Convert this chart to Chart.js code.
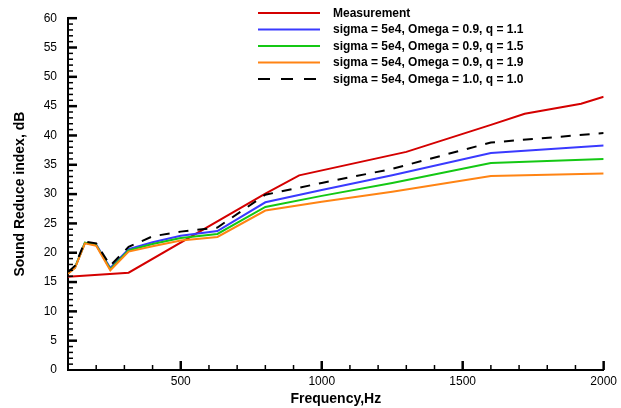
<!DOCTYPE html>
<html>
<head>
<meta charset="utf-8">
<script src="https://cdn.jsdelivr.net/npm/chart.js@4.4.0/dist/chart.umd.min.js"></script>
<style>
  html, body { margin: 0; padding: 0; background: #fff; }
  #wrap { width: 621px; height: 408px; }
</style>
</head>
<body>
<div id="wrap"><canvas id="chart" width="621" height="408"></canvas></div>
<script>
// data
var measFreq = [100, 315, 800, 920, 1300, 1600, 1720, 1920, 2000];
var measurement = [15.9, 16.6, 30.1, 33.2, 37.2, 41.8, 43.7, 45.4, 46.6];

var modelFreq = [100, 125, 160, 200, 250, 315, 400, 500, 630, 800, 1000, 1250, 1600, 2000];
var q11 = [16.5, 17.5, 21.7, 21.4, 17.4, 20.6, 21.8, 22.9, 23.7, 28.6, 30.7, 33.2, 37.0, 38.3];
var q15 = [16.5, 17.5, 21.7, 21.3, 17.2, 20.4, 21.5, 22.5, 23.2, 27.8, 29.7, 31.9, 35.3, 36.0];
var q19 = [16.4, 17.4, 21.6, 21.2, 17.0, 20.2, 21.1, 22.1, 22.7, 27.2, 28.7, 30.4, 33.1, 33.5];
var omega10 = [16.7, 17.8, 21.9, 21.6, 17.8, 21.0, 22.8, 23.6, 24.3, 29.9, 31.9, 34.3, 38.8, 40.4];

var xTicks = [500, 1000, 1500, 2000];
var yTicks = [0, 5, 10, 15, 20, 25, 30, 35, 40, 45, 50, 55, 60];

var labels = [
  'Measurement',
  'sigma = 5e4, Omega = 0.9, q = 1.1',
  'sigma = 5e4, Omega = 0.9, q = 1.5',
  'sigma = 5e4, Omega = 0.9, q = 1.9',
  'sigma = 5e4, Omega = 1.0, q = 1.0'
];

function pts(xs, ys) {
  return xs.map(function (x, i) { return { x: x, y: ys[i] }; });
}

// later series are drawn on top (chart.js paints low "order" last)
function line(label, data, color, order, dash) {
  return {
    label: label,
    data: data,
    borderColor: color,
    backgroundColor: color,
    borderWidth: 2,
    borderDash: dash || [],
    order: order,
    pointRadius: 0,
    tension: 0,
    fill: false
  };
}

// inward ticks, major + minor
function drawTicks(chart) {
  var c = chart.ctx, xs = chart.scales.x, ys = chart.scales.y;
  var a = chart.chartArea;
  c.save();
  c.setLineDash([]);
  c.strokeStyle = '#000000';
  for (var f = 200; f <= 2000; f += 100) {
    var major = (f % 500 === 0);
    var px = xs.getPixelForValue(f);
    c.lineWidth = major ? 2.5 : 1.5;
    c.beginPath();
    c.moveTo(px, a.bottom);
    c.lineTo(px, a.bottom - (major ? 9 : 5));
    c.stroke();
  }
  for (var v = 1; v <= 60; v++) {
    var maj = (v % 5 === 0);
    var py = ys.getPixelForValue(v);
    c.lineWidth = maj ? 2.5 : 1.5;
    c.beginPath();
    c.moveTo(a.left, py);
    c.lineTo(a.left + (maj ? 9 : 5), py);
    c.stroke();
  }
  c.restore();
}

// legend in the top right corner of the plot
function drawLegend(chart) {
  var c = chart.ctx;
  var x0 = 258, x1 = 320, tx = 333, y0 = 13, dy = 16.5;
  c.save();
  c.font = 'bold 12px "Liberation Sans", Arial, sans-serif';
  c.textBaseline = 'middle';
  chart.data.datasets.forEach(function (ds, i) {
    var y = y0 + i * dy;
    c.strokeStyle = ds.borderColor;
    c.lineWidth = 2;
    c.setLineDash(ds.borderDash.length ? [12, 11] : []);
    c.beginPath();
    c.moveTo(x0, y);
    c.lineTo(x1, y);
    c.stroke();
    c.setLineDash([]);
    c.fillStyle = '#000';
    c.fillText(ds.label, tx, y + 0.5);
  });
  c.restore();
}

var extras = {
  id: 'extras',
  afterDraw: function (chart) {
    drawTicks(chart);
    drawLegend(chart);
  }
};

var ctx = document.getElementById('chart');
var myChart = new Chart(ctx, {
  type: 'line',
  data: {
    datasets: [
      line(labels[0], pts(measFreq, measurement), '#d40000', 4),
      line(labels[1], pts(modelFreq, q11), '#3a3aff', 3),
      line(labels[2], pts(modelFreq, q15), '#14c814', 2),
      line(labels[3], pts(modelFreq, q19), '#ff8414', 1),
      line(labels[4], pts(modelFreq, omega10), '#000000', 0, [10, 9])
    ]
  },
  options: {
    responsive: false,
    animation: false,
    layout: { padding: { top: 13, right: 15, left: 2, bottom: 0 } },
    plugins: {
      legend: { display: false },
      tooltip: { enabled: false }
    },
    scales: {
      x: {
        type: 'linear',
        min: 100,
        max: 2000,
        afterBuildTicks: function (s) { s.ticks = xTicks.map(function (v) { return { value: v }; }); },
        afterFit: function (s) { s.height = 38; },
        grid: { display: false, drawTicks: false },
        border: { display: true, color: '#000', width: 2 },
        ticks: {
          color: '#000',
          padding: 4,
          maxRotation: 0,
          callback: function (v) { return String(v); },
          font: { family: '"Liberation Sans", Arial, sans-serif', size: 12 }
        },
        title: {
          display: true,
          text: 'Frequency,Hz',
          color: '#000',
          padding: { top: 0, bottom: 0 },
          font: { family: '"Liberation Sans", Arial, sans-serif', size: 14, weight: 'bold' }
        }
      },
      y: {
        min: 0,
        max: 60,
        afterBuildTicks: function (s) { s.ticks = yTicks.map(function (v) { return { value: v }; }); },
        afterFit: function (s) { s.width = 66; },
        grid: { display: false, drawTicks: false },
        border: { display: true, color: '#000', width: 2 },
        ticks: {
          color: '#000',
          padding: 11,
          callback: function (v) { return String(v); },
          font: { family: '"Liberation Sans", Arial, sans-serif', size: 12 }
        },
        title: {
          display: true,
          text: 'Sound Reduce index, dB',
          color: '#000',
          padding: { top: 10, bottom: 0 },
          font: { family: '"Liberation Sans", Arial, sans-serif', size: 14, weight: 'bold' }
        }
      }
    }
  },
  plugins: [extras]
});
</script>
</body>
</html>
